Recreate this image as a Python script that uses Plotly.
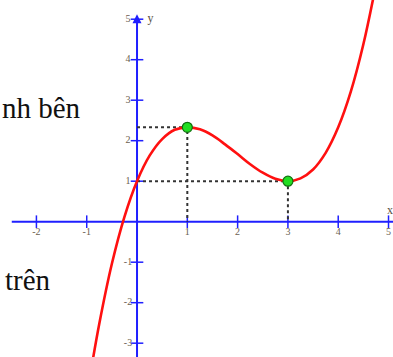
import plotly.graph_objects as go

# red curve, points
curve_x = [-0.92, -0.75, -0.5, -0.25, 0, 0.25, 0.5, 0.75, 1, 1.25, 1.5, 1.75,
           2, 2.25, 2.5, 2.75, 3, 3.25, 3.5, 3.75, 4, 4.25, 4.5, 4.75]
curve_y = [-3.71, -2.52, -1.04, 0.12, 1, 1.63, 2.04, 2.27, 2.33, 2.28, 2.13, 1.91,
           1.67, 1.42, 1.21, 1.06, 1, 1.07, 1.29, 1.70, 2.33, 3.21, 4.38, 5.85]

# extrema (green dots)
ext_x = [1, 3]
ext_y = [2.33, 1]

x_ticks = [-2, -1, 1, 2, 3, 4, 5]
y_ticks = [-3, -2, -1, 1, 2, 3, 4, 5]

BLUE = "#1f1fff"
LABEL = "#6b604f"
SERIF = "Liberation Serif, Times New Roman, serif"

fig = go.Figure()

# axes
fig.add_trace(go.Scatter(x=[-2.49, 5.3], y=[0, 0], mode="lines",
                         line=dict(color=BLUE, width=2), hoverinfo="skip"))
fig.add_trace(go.Scatter(x=[0, 0], y=[-3.6, 5.08], mode="lines",
                         line=dict(color=BLUE, width=2), hoverinfo="skip"))
fig.add_trace(go.Scatter(x=[0], y=[5.12], mode="markers",
                         marker=dict(symbol="arrow-up", size=9, color=BLUE),
                         hoverinfo="skip"))

# tick marks
fig.add_trace(go.Scatter(x=x_ticks, y=[0] * len(x_ticks), mode="markers",
                         marker=dict(symbol="line-ns", size=9,
                                     line=dict(color=BLUE, width=1.5)),
                         hoverinfo="skip"))
fig.add_trace(go.Scatter(x=[0] * len(y_ticks), y=y_ticks, mode="markers",
                         marker=dict(symbol="line-ew", size=9,
                                     line=dict(color=BLUE, width=1.5)),
                         hoverinfo="skip"))

# tick labels
fig.add_trace(go.Scatter(x=x_ticks, y=[-0.26] * len(x_ticks), mode="text",
                         text=[str(v) for v in x_ticks],
                         textfont=dict(family=SERIF, size=10, color=LABEL),
                         hoverinfo="skip"))
fig.add_trace(go.Scatter(x=[-0.18] * len(y_ticks), y=y_ticks, mode="text",
                         text=[str(v) for v in y_ticks],
                         textfont=dict(family=SERIF, size=10, color=LABEL),
                         hoverinfo="skip"))

# axis names
fig.add_trace(go.Scatter(x=[0.27, 5.03], y=[5.0, 0.27], mode="text",
                         text=["y", "x"],
                         textfont=dict(family=SERIF, size=12, color="#5a5040"),
                         hoverinfo="skip"))

# dotted guide lines
for ex, ey in zip(ext_x, ext_y):
    fig.add_trace(go.Scatter(x=[0, ex, ex], y=[ey, ey, 0], mode="lines",
                             line=dict(color="#333333", width=2, dash="dot"),
                             hoverinfo="skip"))

# curve
fig.add_trace(go.Scatter(x=curve_x, y=curve_y, mode="lines",
                         line=dict(color="#ff1010", width=2.6, shape="spline"),
                         hoverinfo="skip"))

fig.add_trace(go.Scatter(x=ext_x, y=ext_y, mode="markers",
                         marker=dict(size=10, color="#22dd22",
                                     line=dict(color="#0f6f0f", width=1.2)),
                         hoverinfo="skip"))

# cropped page text
fig.add_annotation(text="nh bên", xref="paper", yref="paper",
                   x=83 / 393, y=1 - 108 / 357, xanchor="right", yanchor="middle",
                   showarrow=False, font=dict(family=SERIF, size=29, color="#111111"))
fig.add_annotation(text="trên", xref="paper", yref="paper",
                   x=53 / 393, y=1 - 280 / 357, xanchor="right", yanchor="middle",
                   showarrow=False, font=dict(family=SERIF, size=29, color="#111111"))

fig.update_layout(
    width=393,
    height=357,
    margin=dict(l=0, r=0, t=0, b=0),
    showlegend=False,
    plot_bgcolor="white",
    paper_bgcolor="white",
    xaxis=dict(range=[-2.724, 5.089], visible=False, fixedrange=True),
    yaxis=dict(range=[-3.341, 5.474], visible=False, fixedrange=True),
)

fig.write_html("out.html", config={"displayModeBar": False},
               post_script="document.body.style.margin='0';")
